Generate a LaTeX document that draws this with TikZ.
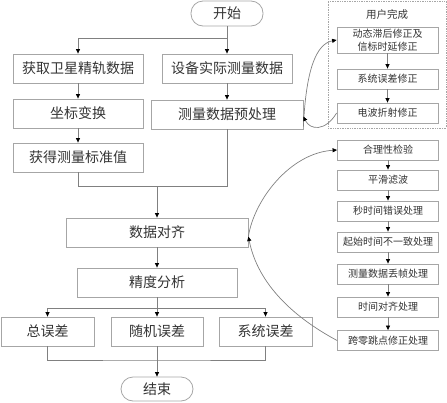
\documentclass[tikz,border=0pt]{standalone}
\usepackage{fontspec}
\setmainfont{Noto Sans CJK SC}
\usetikzlibrary{arrows.meta}
\definecolor{edge}{HTML}{A6A6A6}
\definecolor{wire}{HTML}{808080}
\definecolor{ink}{HTML}{333333}
\tikzset{
  big/.style={draw=edge, line width=0.8pt, text=ink, minimum height=29pt, inner sep=0pt, font=\fontsize{14}{16}\selectfont},
  small/.style={draw=edge, line width=0.8pt, text=ink, minimum width=101pt, minimum height=20pt, inner sep=0pt, font=\fontsize{10}{12}\selectfont, align=center},
  term/.style={draw=edge, line width=0.8pt, text=ink, rounded corners=12pt, inner sep=0pt, font=\fontsize{14}{16}\selectfont},
  wirestyle/.style={draw=wire, line width=0.7pt},
  arr/.style={wirestyle, -{Triangle[length=4.5pt,width=4pt,color=black]}},
}
\begin{document}
\begin{tikzpicture}[x=1pt,y=-1pt]
\useasboundingbox (0,0) rectangle (447,402);
% main column
\node[term, minimum width=72pt, minimum height=25pt] (start) at (227,13.5) {开始};
\node[big, minimum width=130pt] (b1) at (78,68.5) {获取卫星精轨数据};
\node[big, minimum width=130pt] (b2) at (227,68.5) {设备实际测量数据};
\node[big, minimum width=130pt] (b3) at (78,113.5) {坐标变换};
\node[big, minimum width=152pt] (b4) at (227,114.5) {测量数据预处理};
\node[big, minimum width=130pt] (b5) at (78,157.5) {获得测量标准值};
\node[big, minimum width=182pt] (align) at (157,232.5) {数据对齐};
\node[big, minimum width=160pt] (acc) at (157,282.5) {精度分析};
\node[big, minimum width=93pt] (e1) at (47.5,331.5) {总误差};
\node[big, minimum width=92pt] (e2) at (157,331.5) {随机误差};
\node[big, minimum width=93pt] (e3) at (265.5,331.5) {系统误差};
\node[term, minimum width=72pt, minimum height=24pt] (end) at (157,389) {结束};
% user box
\node[draw=edge, densely dotted, line width=0.7pt, minimum width=118pt, minimum height=127pt, inner sep=0pt] (user) at (387,64.5) {};
\node[text=ink, font=\fontsize{10.5}{12}\selectfont] (ulabel) at (387,14) {用户完成};
\node[small, minimum height=26pt, font=\fontsize{10}{13}\selectfont] (u1) at (387.5,40) {动态滞后修正及\\信标时延修正};
\node[small] (u2) at (387.5,79) {系统误差修正};
\node[small] (u3) at (387.5,113) {电波折射修正};
% right processing column
\node[small] (r1) at (388,150) {合理性检验};
\node[small] (r2) at (388,180) {平滑滤波};
\node[small] (r3) at (388,211) {秒时间错误处理};
\node[small] (r4) at (388,242) {起始时间不一致处理};
\node[small] (r5) at (388,274) {测量数据丢帧处理};
\node[small] (r6) at (388,307) {时间对齐处理};
\node[small] (r7) at (388,340.5) {跨零跳点修正处理};
% junction coordinates
\coordinate (j0) at (227,38);
\coordinate (j0l) at (78,38);
\coordinate (j1) at (157,186);
\coordinate (j1r) at (227,186);
\coordinate (j2) at (157,308);
\coordinate (j3) at (157,360);
% connectors
\draw[wirestyle] (start.south) -- (j0);
\draw[arr] (j0) -- (b2.north);
\draw[arr] (j0) -- (j0l) -- (b1.north);
\draw[arr] (b1) -- (b3);
\draw[arr] (b3) -- (b5);
\draw[arr] (b2) -- (b4);
\draw[wirestyle] (b5.south) |- (j1r) -- (b4.south);
\draw[arr] (j1) -- (align.north);
\draw[arr] (align) -- (acc);
\draw[wirestyle] (acc.south) -- (j2);
\draw[arr] (j2) -| (e1.north);
\draw[arr] (j2) -| (e3.north);
\draw[arr] (j2) -- (e2.north);
\draw[wirestyle] (e1.south) |- (j3) -| (e3.south);
\draw[arr] (e2.south) -- (end.north);
\draw[arr] (u1) -- (u2);
\draw[arr] (u2) -- (u3);
\draw[arr] (r1) -- (r2);
\draw[arr] (r2) -- (r3);
\draw[arr] (r3) -- (r4);
\draw[arr] (r4) -- (r5);
\draw[arr] (r5) -- (r6);
\draw[arr] (r6) -- (r7);
% curved connectors
\draw[arr] ([yshift=-12pt]b4.east) .. controls (306,70) and (316,44) .. (u1.west);
\draw[arr] (u3.west) .. controls (325,132) and (310,130) .. ([yshift=-2pt]b4.east);
\draw[arr] ([yshift=-4pt]align.east) .. controls (254,200) and (290,153) .. (r1.west);
\draw[arr] (r7.west) .. controls (295,318) and (258,285) .. ([yshift=-4pt]align.east);
\end{tikzpicture}
\end{document}
